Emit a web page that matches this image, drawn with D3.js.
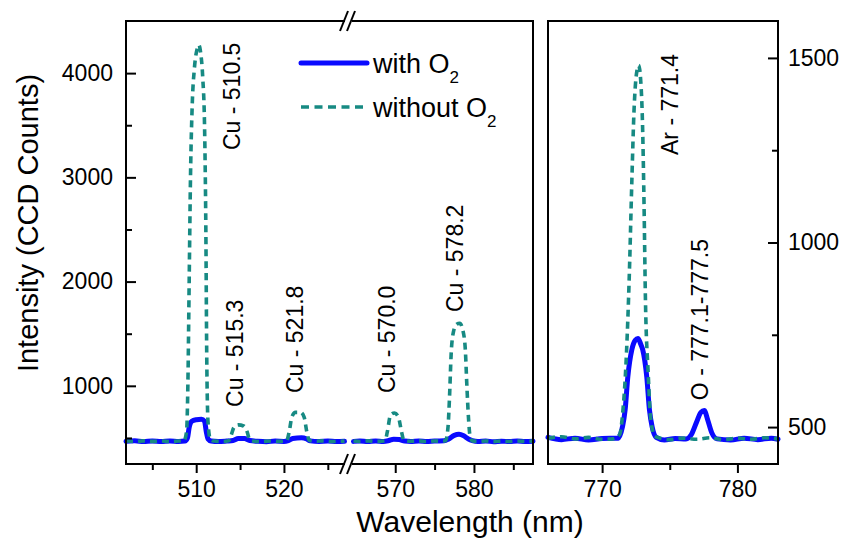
<!DOCTYPE html>
<html><head><meta charset="utf-8">
<script src="https://cdn.jsdelivr.net/npm/d3@7"></script>
<style>
body{margin:0;background:#fff;}
svg{display:block;font-family:"Liberation Sans",Arial,sans-serif;}
</style></head>
<body><svg id="c" width="845" height="539"></svg>
<script>
// ---------- data ----------
const seriesNames = ["with O", "without O"];
const leftYTicks = [1000, 2000, 3000, 4000];
const leftYMinor = [500, 1500, 2500, 3500];
const rightYTicks = [500, 1000, 1500];
const rightYMinor = [750, 1250];
const segATicks = [510, 520];
const segAMinor = [505, 515, 525];
const segBTicks = [570, 580];
const segBMinor = [575, 585];
const rightXTicks = [770, 780];
const rightXMinor = [775];

// peak labels: wavelength position and count level where the (rotated) label starts
const labelsLeft = [
  {text: "Cu - 510.5", wl: 514.1, seg: "A", base: 3262},
  {text: "Cu - 515.3", wl: 514.45, seg: "A", base: 797},
  {text: "Cu - 521.8", wl: 521.3, seg: "A", base: 931},
  {text: "Cu - 570.0", wl: 568.95, seg: "B", base: 931},
  {text: "Cu - 578.2", wl: 577.6, seg: "B", base: 1708}
];
const labelsRight = [
  {text: "Ar - 771.4", wl: 775.0, base: 1237},
  {text: "O - 777.1-777.5", wl: 777.25, base: 573}
];

// left panel, first segment (502–527 nm)
const withO2_A = [[502.0,468],[503.0,472],[504.0,466],[505.0,470],[506.0,465],[507.0,471],[508.0,467],[508.7,470],[509.0,500],[509.2,600],[509.5,660],[510.0,675],[510.6,680],[510.95,660],[511.15,560],[511.35,490],[511.7,470],[512.5,465],[513.5,470],[514.2,475],[514.8,495],[515.5,495],[516.1,475],[517.0,468],[518.0,464],[519.0,470],[520.0,467],[520.5,475],[521.0,495],[522.0,502],[522.6,490],[523.0,472],[524.0,467],[525.0,470],[526.0,465],[526.9,468]];
const withoutO2_A = [[502.0,470],[503.0,466],[504.0,472],[505.0,467],[506.0,471],[507.0,466],[508.0,470],[508.6,472],[508.9,560],[509.05,1000],[509.2,2000],[509.35,3000],[509.55,3700],[509.8,4050],[510.1,4230],[510.3,4270],[510.5,4200],[510.75,3950],[510.95,3500],[511.1,2500],[511.2,1300],[511.35,650],[511.6,490],[512.0,470],[513.0,466],[513.7,472],[514.0,530],[514.3,600],[514.8,625],[515.4,615],[515.8,560],[516.1,480],[516.4,470],[517.5,466],[518.5,471],[519.5,467],[520.3,472],[520.6,560],[520.9,700],[521.3,745],[521.9,745],[522.3,700],[522.6,560],[522.9,475],[523.5,468],[524.5,472],[525.5,466],[526.9,470]];
// left panel, second segment (564–587.5 nm)
const withO2_B = [[564.7,467],[565.5,471],[566.5,465],[567.5,470],[568.5,466],[569.2,475],[569.8,488],[570.5,485],[571.2,470],[572.0,466],[573.0,470],[574.0,465],[575.0,470],[576.2,472],[576.8,490],[577.5,525],[578.1,535],[578.7,520],[579.3,490],[579.8,475],[580.5,466],[581.5,470],[582.5,464],[583.5,469],[584.5,465],[585.5,470],[586.5,466],[587.5,469]];
const withoutO2_B = [[564.7,470],[565.5,466],[566.5,472],[567.5,467],[568.7,472],[569.0,560],[569.4,720],[569.9,740],[570.4,700],[570.8,560],[571.1,475],[572.0,468],[573.0,472],[574.0,466],[575.0,471],[576.0,468],[576.4,475],[576.7,600],[576.9,900],[577.1,1300],[577.4,1520],[577.8,1590],[578.2,1600],[578.6,1530],[578.9,1350],[579.1,1000],[579.3,700],[579.5,520],[579.8,472],[580.5,467],[581.5,471],[582.5,465],[583.5,470],[584.5,466],[585.5,471],[586.5,467],[587.5,470]];
// right panel (766–783 nm)
const withO2_R = [[766.0,472],[767.0,466],[768.0,470],[769.0,465],[770.0,469],[771.2,470],[771.5,500],[771.7,546],[771.9,636],[772.2,710],[772.45,735],[772.65,740],[772.85,725],[773.0,710],[773.3,636],[773.5,546],[773.7,500],[774.0,472],[774.6,465],[775.4,469],[776.2,468],[776.6,480],[777.0,515],[777.3,540],[777.55,545],[777.8,520],[778.1,485],[778.5,468],[779.5,465],[780.5,470],[781.5,466],[782.5,470],[783.0,467]];
const withoutO2_R = [[766.0,470],[767.0,474],[768.0,468],[769.0,472],[770.0,467],[770.8,468],[771.3,480],[771.5,530],[771.8,700],[772.0,900],[772.2,1170],[772.35,1350],[772.55,1460],[772.7,1480],[772.85,1440],[773.0,1300],[773.1,1100],[773.2,850],[773.4,650],[773.6,520],[773.9,475],[774.3,470],[775.0,466],[776.0,470],[777.0,467],[778.0,471],[779.0,466],[780.0,470],[781.0,467],[782.0,471],[783.0,468]];

// ---------- layout ----------
const svg = d3.select("#c");
const BLUE = "#0a0aff", TEAL = "#178a83";
const L = {x0: 126, x1: 533, brk: 348, y0: 21, y1: 464};
const R = {x0: 548, x1: 778, y0: 21, y1: 464};

const xA = d3.scaleLinear().domain([502, 527.3]).range([L.x0, L.brk]);
const xB = d3.scaleLinear().domain([564, 587.5]).range([L.brk, L.x1]);
const yL = d3.scaleLinear().domain([250, 4500]).range([L.y1, L.y0]);
const xR = d3.scaleLinear().domain([766, 783]).range([R.x0, R.x1]);
const yR = d3.scaleLinear().domain([400, 1600]).range([R.y1, R.y0]);

function drawLine(g, data, xs, ys, dashed) {
  const line = d3.line().x(d => xs(d[0])).y(d => ys(d[1])).curve(d3.curveMonotoneX);
  g.append("path").datum(data).attr("d", line).attr("fill", "none")
    .attr("stroke", dashed ? TEAL : BLUE)
    .attr("stroke-width", dashed ? 3.6 : 5)
    .attr("stroke-linejoin", "round").attr("stroke-linecap", dashed ? "butt" : "round")
    .attr("stroke-dasharray", dashed ? "7,5" : null);
}

const plot = svg.append("g");
drawLine(plot, withO2_A, xA, yL, false);
drawLine(plot, withO2_B, xB, yL, false);
drawLine(plot, withO2_R, xR, yR, false);
drawLine(plot, withoutO2_A, xA, yL, true);
drawLine(plot, withoutO2_B, xB, yL, true);
drawLine(plot, withoutO2_R, xR, yR, true);

// frames
function frame(p) {
  svg.append("rect").attr("x", p.x0).attr("y", p.y0).attr("width", p.x1 - p.x0).attr("height", p.y1 - p.y0)
    .attr("fill", "none").attr("stroke", "#000").attr("stroke-width", 2);
}
frame(L); frame(R);

const TICKFS = 23;
function styleAxis(g) {
  g.select(".domain").remove();
  g.selectAll(".tick line").attr("stroke", "#000").attr("stroke-width", 2);
  g.selectAll(".tick text").attr("fill", "#000").style("font-size", TICKFS + "px")
    .style("font-family", "'Liberation Sans',Arial,sans-serif");
}

// bottom axes
function bottom(scale, major, minor, px) {
  const gM = svg.append("g").attr("transform", `translate(0,${px})`)
    .call(d3.axisBottom(scale).tickValues(major).tickSize(9).tickPadding(8).tickFormat(d3.format("d")));
  styleAxis(gM);
  const gm = svg.append("g").attr("transform", `translate(0,${px})`)
    .call(d3.axisBottom(scale).tickValues(minor).tickSize(6).tickFormat(""));
  styleAxis(gm);
}
bottom(xA, segATicks, segAMinor, L.y1);
bottom(xB, segBTicks, segBMinor, L.y1);
bottom(xR, rightXTicks, rightXMinor, R.y1);

// left y axis (inward ticks)
let g = svg.append("g").attr("transform", `translate(${L.x0},0)`)
  .call(d3.axisLeft(yL).tickValues(leftYTicks).tickSize(-10).tickPadding(13).tickFormat(d3.format("d")));
styleAxis(g);
g = svg.append("g").attr("transform", `translate(${L.x0},0)`)
  .call(d3.axisLeft(yL).tickValues(leftYMinor).tickSize(-6).tickFormat(""));
styleAxis(g);
// right y axis
g = svg.append("g").attr("transform", `translate(${R.x1},0)`)
  .call(d3.axisRight(yR).tickValues(rightYTicks).tickSize(-10).tickPadding(10).tickFormat(d3.format("d")));
styleAxis(g);
g = svg.append("g").attr("transform", `translate(${R.x1},0)`)
  .call(d3.axisRight(yR).tickValues(rightYMinor).tickSize(-6).tickFormat(""));
styleAxis(g);

// axis breaks
[L.y0, L.y1].forEach(yy => {
  svg.append("rect").attr("x", L.brk - 3).attr("y", yy - 3).attr("width", 7).attr("height", 6).attr("fill", "#fff");
  [-4, 3].forEach(off => {
    svg.append("line").attr("x1", L.brk + off - 4).attr("y1", yy + 10).attr("x2", L.brk + off + 4).attr("y2", yy - 10)
      .attr("stroke", "#000").attr("stroke-width", 2);
  });
});

// annotations (rotated, reading upward from the base level)
const annFont = 23;
labelsLeft.forEach(a => {
  const xs = a.seg === "A" ? xA : xB;
  svg.append("text").attr("transform", `translate(${xs(a.wl) + 8},${yL(a.base)}) rotate(-90)`)
    .attr("text-anchor", "start").style("font-size", annFont + "px").text(a.text);
});
labelsRight.forEach(a => {
  svg.append("text").attr("transform", `translate(${xR(a.wl) + 8},${yR(a.base)}) rotate(-90)`)
    .attr("text-anchor", "start").style("font-size", annFont + "px").text(a.text);
});

// axis titles
svg.append("text").attr("transform", "translate(38,223) rotate(-90)").attr("text-anchor", "middle")
  .style("font-size", "29px").text("Intensity (CCD Counts)");
svg.append("text").attr("x", 470).attr("y", 532).attr("text-anchor", "middle")
  .style("font-size", "30px").text("Wavelength (nm)");

// legend
const legY = [63, 107];
seriesNames.forEach((name, i) => {
  const dashed = i === 1;
  svg.append("line").attr("x1", 301).attr("x2", 367).attr("y1", legY[i]).attr("y2", legY[i])
    .attr("stroke", dashed ? TEAL : BLUE).attr("stroke-width", dashed ? 3.6 : 5)
    .attr("stroke-linecap", dashed ? "butt" : "round")
    .attr("stroke-dasharray", dashed ? "8,5.5" : null);
  const t = svg.append("text").attr("x", 373).attr("y", legY[i] + 10).style("font-size", "27px");
  t.append("tspan").text(name);
  t.append("tspan").attr("dy", 10).style("font-size", "17px").text("2");
});
</script></body></html>
